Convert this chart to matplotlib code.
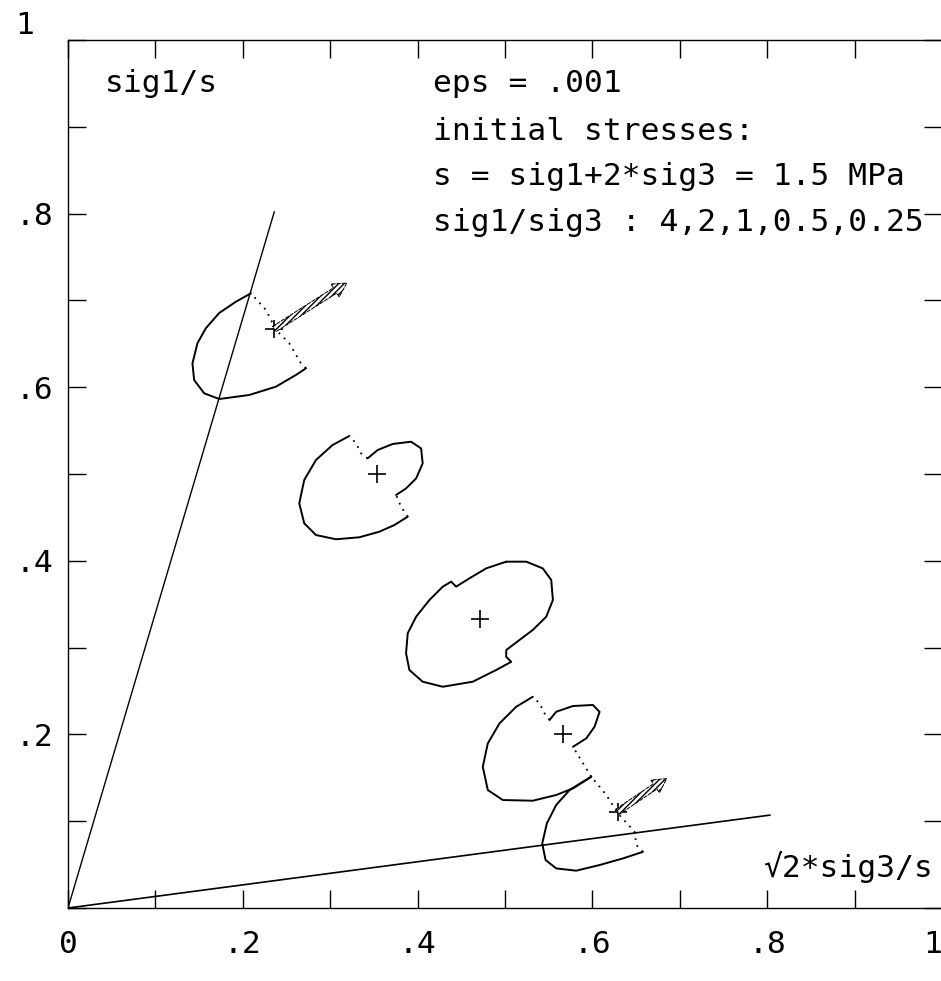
import numpy as np
import matplotlib
matplotlib.use("Agg")
import matplotlib.pyplot as plt

# ---------------- data ----------------
tick_values = [0.0, 0.1, 0.2, 0.3, 0.4, 0.5, 0.6, 0.7, 0.8, 0.9, 1.0]
x_tick_labels = ["0", "", ".2", "", ".4", "", ".6", "", ".8", "", "1"]
y_tick_labels = ["", "", ".2", "", ".4", "", ".6", "", ".8", "", "1"]

# envelope lines through the origin
steep_x = [0.0, 0.236]
steep_y = [0.0, 0.802]
flat_x = [0.0, 0.803]
flat_y = [0.0, 0.107]

# initial stress points (sig1/sig3 = 4, 2, 1, 0.5, 0.25)
center_x = [0.236, 0.354, 0.471, 0.566, 0.629]
center_y = [0.667, 0.500, 0.333, 0.200, 0.111]

# loop for sig1/sig3 = 4
loop1_x = [0.2093, 0.1921, 0.1730, 0.1577, 0.1481, 0.1424, 0.1443, 0.1558, 0.1730,
           0.2073, 0.2379, 0.2608, 0.2723]
loop1_y = [0.7082, 0.6985, 0.6855, 0.6679, 0.6506, 0.6275, 0.6083, 0.5930, 0.5864,
           0.5910, 0.6006, 0.6141, 0.6218]
loop1_dot_x = [0.2723, 0.2665, 0.2532, 0.2380, 0.2265, 0.2093]
loop1_dot_y = [0.6218, 0.6275, 0.6506, 0.6660, 0.6889, 0.7082]

# loop for sig1/sig3 = 2
loop2a_x = [0.3219, 0.3027, 0.2837, 0.2703, 0.2646, 0.2703, 0.2837, 0.3066, 0.3333,
            0.3562, 0.3734, 0.3887]
loop2a_y = [0.5438, 0.5334, 0.5161, 0.4931, 0.4662, 0.4432, 0.4297, 0.4248, 0.4271,
            0.4335, 0.4412, 0.4508]
loop2_dot1_x = [0.3887, 0.3811, 0.3754]
loop2_dot1_y = [0.4508, 0.4623, 0.4758]
loop2b_x = [0.3754, 0.3868, 0.3983, 0.4058, 0.4040, 0.3925, 0.3715, 0.3543, 0.3428]
loop2b_y = [0.4758, 0.4834, 0.4949, 0.5122, 0.5295, 0.5372, 0.5346, 0.5276, 0.5180]
loop2_dot2_x = [0.3428, 0.3353, 0.3296, 0.3219]
loop2_dot2_y = [0.5180, 0.5238, 0.5353, 0.5438]

# loop for sig1/sig3 = 1
loop3_x = [0.5014, 0.5243, 0.5433, 0.5529, 0.5548, 0.5472, 0.5318, 0.5166, 0.5014,
           0.5014, 0.5071, 0.4899, 0.4631, 0.4288, 0.4058, 0.3906, 0.3868, 0.3887,
           0.3983, 0.4135, 0.4288, 0.4384, 0.4441, 0.4593, 0.4785, 0.5014]
loop3_y = [0.3990, 0.3990, 0.3912, 0.3779, 0.3548, 0.3356, 0.3203, 0.3088, 0.2972,
           0.2894, 0.2836, 0.2742, 0.2607, 0.2549, 0.2607, 0.2742, 0.2934, 0.3165,
           0.3356, 0.3548, 0.3702, 0.3760, 0.3702, 0.3798, 0.3913, 0.3990]

# loop for sig1/sig3 = 0.5
loop4a_x = [0.5318, 0.5128, 0.4937, 0.4803, 0.4746, 0.4803, 0.4975, 0.5318, 0.5586,
            0.5777, 0.5930, 0.5987]
loop4a_y = [0.2434, 0.2318, 0.2127, 0.1896, 0.1627, 0.1359, 0.1244, 0.1236, 0.1302,
            0.1378, 0.1475, 0.1513]
loop4_dot1_x = [0.5987, 0.5777]
loop4_dot1_y = [0.1513, 0.1857]
loop4b_x = [0.5777, 0.5930, 0.6025, 0.6082, 0.6006, 0.5777, 0.5586, 0.5510]
loop4b_y = [0.1857, 0.1954, 0.2089, 0.2260, 0.2339, 0.2327, 0.2261, 0.2166]
loop4_dot2_x = [0.5510, 0.5452, 0.5395, 0.5318]
loop4_dot2_y = [0.2166, 0.2243, 0.2358, 0.2434]

# loop for sig1/sig3 = 0.25
loop5_x = [0.5987, 0.5739, 0.5586, 0.5479, 0.5426, 0.5464, 0.5586, 0.5815, 0.6082,
           0.6349, 0.6578]
loop5_y = [0.1513, 0.1359, 0.1187, 0.0975, 0.0744, 0.0553, 0.0456, 0.0430, 0.0495,
           0.0571, 0.0647]
loop5_dot_x = [0.6578, 0.6503, 0.6483, 0.6292, 0.6159, 0.5987]
loop5_dot_y = [0.0647, 0.0726, 0.0878, 0.1090, 0.1302, 0.1513]

# hatched arrows (from initial point to tip)
arrow_from = [0, 4]
arrow_tip_x = [0.319, 0.685]
arrow_tip_y = [0.720, 0.149]

# ---------------- figure ----------------
FONT = ["DejaVu Sans Mono", "DejaVu Sans"]
plt.rcParams["font.family"] = FONT
FS = 22.5

fig = plt.figure(figsize=(9.41, 9.81), dpi=100)
W, H = 941.0, 981.0
ax = fig.add_axes([68 / W, 1 - 908 / H, 874 / W, 868 / H])
ax.set_xlim(0, 1)
ax.set_ylim(0, 1)

for sp in ax.spines.values():
    sp.set_linewidth(1.0)
    sp.set_color("black")

ax.set_xticks(tick_values)
ax.set_yticks(tick_values)
ax.set_xticklabels(x_tick_labels, fontsize=FS)
ax.set_yticklabels(y_tick_labels, fontsize=FS)
ax.tick_params(axis="both", which="major", direction="in", length=13, width=1.0,
               top=True, right=True, color="black")
ax.tick_params(axis="x", pad=16)
ax.tick_params(axis="y", pad=38)
xl = ax.get_xticklabels()
xl[-1].set_horizontalalignment("right")
for lab in ax.get_yticklabels():
    lab.set_horizontalalignment("left")
yl = ax.get_yticklabels()
yl[-1].set_verticalalignment("bottom")

# envelope lines
ax.plot(steep_x, steep_y, color="black", lw=1.0)
ax.plot(flat_x, flat_y, color="black", lw=1.2)

solid = dict(color="black", lw=1.4, solid_capstyle="round")
dotted = dict(color="black", lw=1.3, linestyle=(0, (1, 3)))

ax.plot(loop1_x, loop1_y, **solid)
ax.plot(loop1_dot_x, loop1_dot_y, **dotted)

ax.plot(loop2a_x, loop2a_y, **solid)
ax.plot(loop2_dot1_x, loop2_dot1_y, **dotted)
ax.plot(loop2b_x, loop2b_y, **solid)
ax.plot(loop2_dot2_x, loop2_dot2_y, **dotted)

ax.plot(loop3_x, loop3_y, **solid)

ax.plot(loop4a_x, loop4a_y, **solid)
ax.plot(loop4_dot1_x, loop4_dot1_y, **dotted)
ax.plot(loop4b_x, loop4b_y, **solid)
ax.plot(loop4_dot2_x, loop4_dot2_y, **dotted)

ax.plot(loop5_x, loop5_y, **solid)
ax.plot(loop5_dot_x, loop5_dot_y, **dotted)

# initial points
ax.plot(center_x, center_y, linestyle="none", marker="+", markersize=13,
        markeredgewidth=1.2, color="black")

# hatched arrows
for i, tx, ty in zip(arrow_from, arrow_tip_x, arrow_tip_y):
    ax.annotate("", xy=(tx, ty), xytext=(center_x[i], center_y[i]),
                arrowprops=dict(arrowstyle="simple,head_length=1.0,head_width=1.1,tail_width=0.45",
                                mutation_scale=10, facecolor="white", edgecolor="black",
                                hatch="//////", lw=0.7, linestyle="--",
                                shrinkA=0, shrinkB=0))

# texts
ax.text(0.042, 0.940, "sig1/s", transform=ax.transAxes, fontsize=FS, va="baseline", ha="left")
info_lines = ["eps = .001", "initial stresses:", "s = sig1+2*sig3 = 1.5 MPa",
              "sig1/sig3 : 4,2,1,0.5,0.25"]
info_y = [0.940, 0.885, 0.833, 0.780]
for t, yy in zip(info_lines, info_y):
    ax.text(0.4176, yy, t, transform=ax.transAxes, fontsize=FS, va="baseline", ha="left")
ax.text(0.795, 0.036, "√2*sig3/s", transform=ax.transAxes, fontsize=FS,
        va="baseline", ha="left", family=FONT)

fig.savefig("out.png", dpi=100)
